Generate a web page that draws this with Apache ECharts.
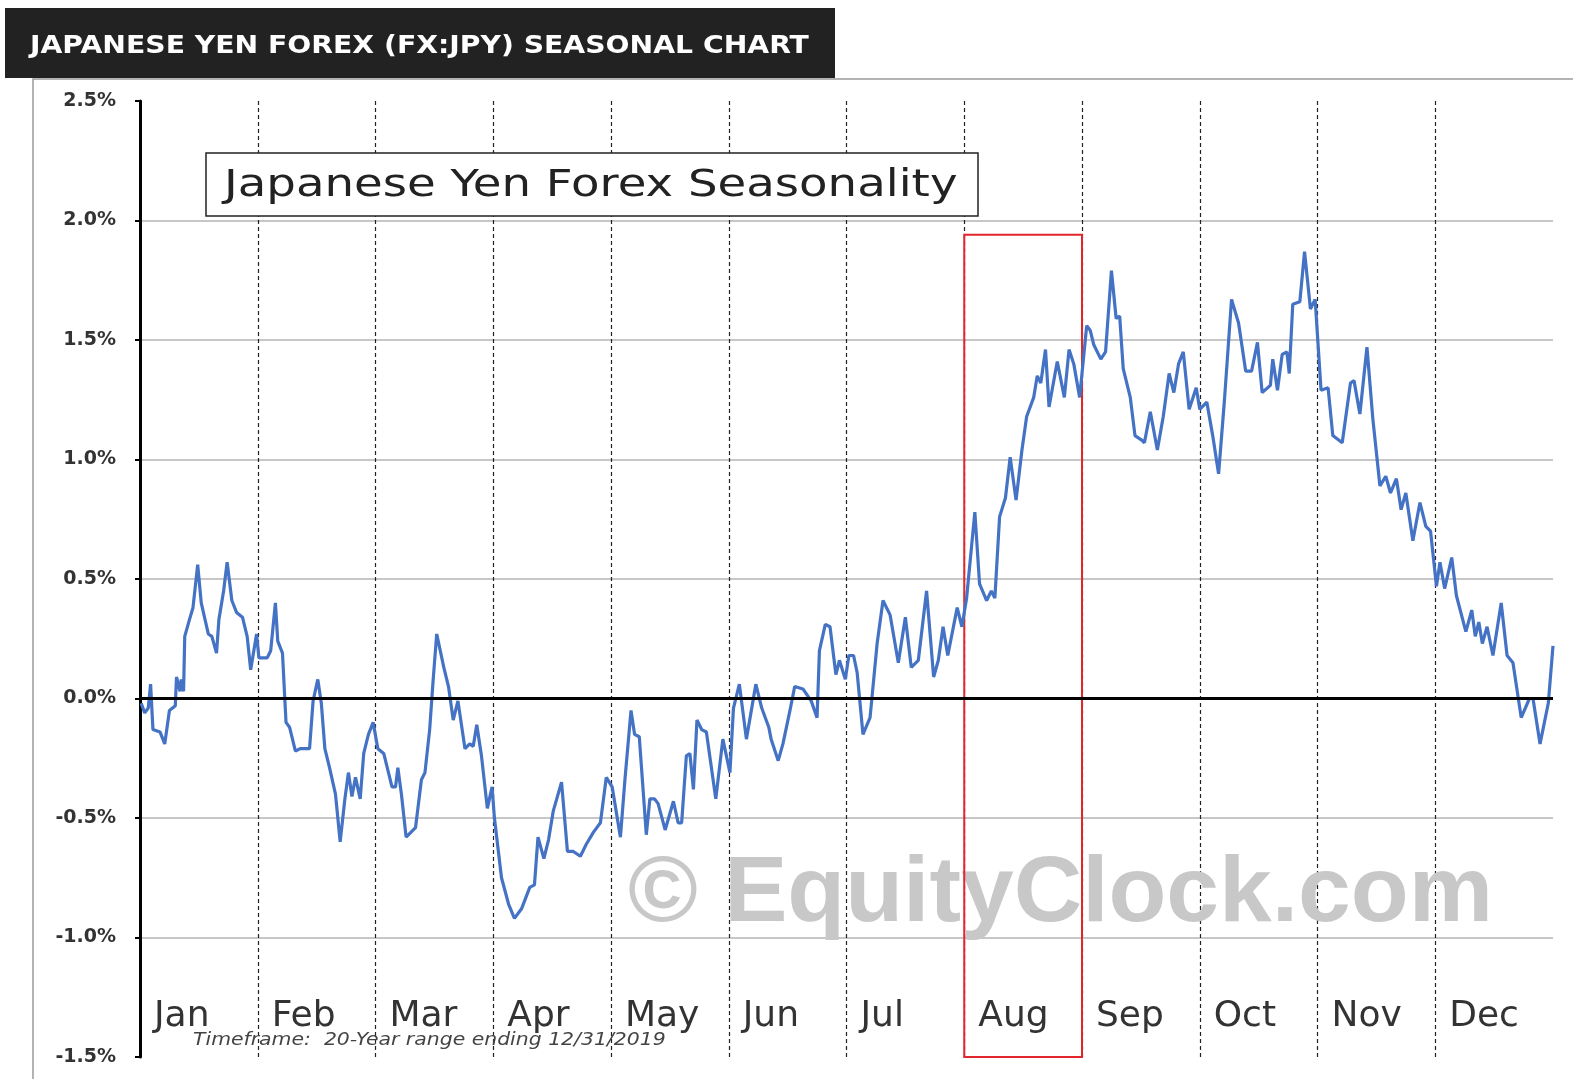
<!DOCTYPE html>
<html lang="en">
  <head>
    <meta charset="UTF-8" />
    <title>Japanese Yen Forex Seasonal Chart</title>
    <script src="https://cdn.jsdelivr.net/npm/echarts@6/dist/echarts.min.js"></script>
    <style>
      html, body { margin: 0; padding: 0; background: #fff; }
    </style>
  </head>
  <body>
    <div id="main" style="width: 1573px; height: 1079px"></div>
  </body>
</html>
<script>
  // month names shown along the bottom
  const months = ['Jan', 'Feb', 'Mar', 'Apr', 'May', 'Jun', 'Jul', 'Aug', 'Sep', 'Oct', 'Nov', 'Dec']

  // position in the year (months from Jan 1) and average seasonal return in %
  const pos = [
    0.01, 0.04, 0.07, 0.09, 0.11, 0.17, 0.21, 0.25, 0.30, 0.31, 0.34, 0.35, 0.37, 0.38, 0.42, 0.45, 0.49, 0.52, 0.58, 0.61,
    0.65, 0.67, 0.71, 0.74, 0.78, 0.82, 0.87, 0.91, 0.94, 0.99,
    1.01, 1.08, 1.11, 1.15, 1.17, 1.21, 1.24, 1.27, 1.32, 1.36, 1.44, 1.47, 1.51, 1.54, 1.57, 1.61, 1.66, 1.70, 1.74, 1.77,
    1.80, 1.83, 1.87, 1.90, 1.94, 1.98,
    2.02, 2.07, 2.14, 2.17, 2.19, 2.22, 2.26, 2.34, 2.39, 2.42, 2.46, 2.49, 2.52, 2.58, 2.62, 2.66, 2.70, 2.76, 2.80, 2.83,
    2.86, 2.90, 2.95, 2.99,
    3.01, 3.07, 3.13, 3.18, 3.24, 3.31, 3.35, 3.38, 3.43, 3.47, 3.51, 3.58, 3.63, 3.68, 3.74, 3.79, 3.85, 3.91, 3.96,
    4.01, 4.08, 4.12, 4.17, 4.20, 4.24, 4.30, 4.33, 4.37, 4.40, 4.46, 4.53, 4.57, 4.60, 4.64, 4.67, 4.70, 4.73, 4.77, 4.81,
    4.89, 4.95,
    5.01, 5.04, 5.09, 5.15, 5.23, 5.28, 5.34, 5.36, 5.42, 5.46, 5.52, 5.56, 5.63, 5.70, 5.75, 5.77, 5.82, 5.86, 5.91, 5.94,
    5.99,
    6.02, 6.06, 6.09, 6.14, 6.20, 6.26, 6.31, 6.37, 6.44, 6.50, 6.55, 6.61, 6.68, 6.74, 6.78, 6.82, 6.86, 6.94, 6.98,
    7.02, 7.09, 7.13, 7.19, 7.23, 7.26, 7.30, 7.35, 7.39, 7.44, 7.49, 7.53, 7.59, 7.62, 7.65, 7.69, 7.72, 7.79, 7.85, 7.89,
    7.93, 7.98,
    8.04, 8.07, 8.10, 8.16, 8.20, 8.25, 8.29, 8.32, 8.35, 8.41, 8.45, 8.51, 8.53, 8.58, 8.64, 8.69, 8.74, 8.78, 8.82, 8.86,
    8.91, 8.97,
    9.00, 9.06, 9.11, 9.16, 9.21, 9.27, 9.33, 9.39, 9.44, 9.49, 9.53, 9.60, 9.62, 9.66, 9.70, 9.74, 9.76, 9.79, 9.85, 9.89,
    9.94, 9.98,
    10.03, 10.09, 10.13, 10.21, 10.28, 10.31, 10.36, 10.42, 10.47, 10.53, 10.58, 10.62, 10.67, 10.71, 10.75, 10.81, 10.87,
    10.92, 10.96,
    11.01, 11.04, 11.08, 11.14, 11.18, 11.26, 11.31, 11.34, 11.37, 11.40, 11.44, 11.49, 11.56, 11.61, 11.66, 11.73, 11.80,
    11.83, 11.89, 11.96, 12.00
  ]
  const pct = [
    -0.02, -0.06, -0.04, 0.06, -0.13, -0.14, -0.19, -0.05, -0.03, 0.09, 0.03, 0.08, 0.03, 0.26, 0.33, 0.38, 0.56, 0.40, 0.27, 0.26,
    0.19, 0.33, 0.45, 0.57, 0.41, 0.36, 0.34, 0.26, 0.12, 0.27,
    0.17, 0.17, 0.20, 0.40, 0.24, 0.19, -0.10, -0.12, -0.22, -0.21, -0.21, -0.01, 0.08, -0.02, -0.21, -0.29, -0.40, -0.60, -0.42, -0.31,
    -0.41, -0.33, -0.42, -0.23, -0.15, -0.10,
    -0.21, -0.23, -0.37, -0.37, -0.29, -0.40, -0.58, -0.54, -0.34, -0.31, -0.13, 0.08, 0.27, 0.13, 0.05, -0.09, -0.01, -0.21, -0.19, -0.20,
    -0.11, -0.24, -0.46, -0.37,
    -0.50, -0.75, -0.86, -0.92, -0.88, -0.79, -0.78, -0.58, -0.67, -0.59, -0.47, -0.35, -0.64, -0.64, -0.66, -0.61, -0.56, -0.52, -0.33,
    -0.37, -0.58, -0.33, -0.05, -0.15, -0.16, -0.57, -0.42, -0.42, -0.44, -0.55, -0.43, -0.52, -0.52, -0.24, -0.23, -0.38, -0.09, -0.13, -0.14,
    -0.42, -0.17,
    -0.31, -0.04, 0.06, -0.17, 0.06, -0.04, -0.12, -0.17, -0.26, -0.19, -0.05, 0.05, 0.04, -0.01, -0.08, 0.20, 0.31, 0.30, 0.10, 0.16,
    0.08,
    0.18, 0.18, 0.11, -0.15, -0.08, 0.23, 0.41, 0.35, 0.15, 0.34, 0.13, 0.16, 0.45, 0.09, 0.16, 0.30, 0.18, 0.38, 0.30,
    0.42, 0.78, 0.48, 0.41, 0.45, 0.42, 0.76, 0.84, 1.01, 0.83, 1.04, 1.18, 1.26, 1.35, 1.32, 1.46, 1.22, 1.41, 1.26, 1.46,
    1.40, 1.26,
    1.56, 1.54, 1.48, 1.42, 1.45, 1.79, 1.59, 1.60, 1.38, 1.26, 1.10, 1.08, 1.07, 1.20, 1.04, 1.18, 1.36, 1.28, 1.40, 1.45,
    1.21, 1.30,
    1.21, 1.24, 1.10, 0.94, 1.25, 1.67, 1.57, 1.37, 1.37, 1.49, 1.28, 1.31, 1.42, 1.29, 1.44, 1.45, 1.36, 1.65, 1.66, 1.87,
    1.63, 1.67,
    1.29, 1.30, 1.10, 1.07, 1.32, 1.33, 1.19, 1.47, 1.17, 0.89, 0.93, 0.86, 0.92, 0.79, 0.86, 0.66, 0.82,
    0.72, 0.70,
    0.47, 0.57, 0.46, 0.59, 0.43, 0.28, 0.37, 0.26, 0.32, 0.23, 0.30, 0.18, 0.40, 0.18, 0.15, -0.08, 0.00,
    0.00, -0.19, -0.02, 0.22
  ]

  // highlighted month: [from, to, top of box in %]
  const highlight = [7, 8, 1.94]

  const lineData = pos.map((p, i) => [p, pct[i]])

  const chartInstance = echarts.init(document.getElementById('main'))

  const option = {
    backgroundColor: '#fff',
    animation: false,
    grid: { left: 140, right: 20, top: 101, bottom: 22 },
    xAxis: {
      type: 'value',
      min: 0,
      max: 12,
      interval: 1,
      axisLine: { show: false },
      axisTick: { show: false },
      axisLabel: {
        inside: true,
        margin: 40,
        align: 'left',
        verticalAlign: 'middle',
        padding: [0, 0, 0, 14],
        fontFamily: 'DejaVu Sans',
        fontSize: 36,
        color: '#333',
        showMaxLabel: false,
        formatter: (v) => months[v] || ''
      },
      splitLine: {
        show: true,
        showMinLine: false,
        showMaxLine: false,
        lineStyle: { color: '#222', width: 1.2, type: [4, 3] }
      }
    },
    yAxis: {
      type: 'value',
      min: -1.5,
      max: 2.5,
      interval: 0.5,
      axisLine: { show: true, lineStyle: { color: '#000', width: 3 } },
      axisTick: { show: true, length: 5, lineStyle: { color: '#000', width: 2 } },
      axisLabel: {
        margin: 24,
        fontFamily: 'DejaVu Sans',
        fontWeight: 'bold',
        fontSize: 19,
        color: '#333',
        formatter: (v) => v.toFixed(1) + '%'
      },
      splitLine: {
        show: true,
        showMinLine: false,
        showMaxLine: false,
        lineStyle: { color: '#b4b4b4', width: 1.5 }
      }
    },
    graphic: [
      {
        type: 'polyline',
        z: 0,
        shape: { points: [[33, 1079], [33, 79], [1573, 79]] },
        style: { stroke: '#9a9a9a', lineWidth: 1.5, fill: null }
      },
      {
        type: 'rect',
        z: 50,
        shape: { x: 5, y: 8, width: 830, height: 70 },
        style: { fill: '#222' }
      },
      {
        type: 'text',
        z: 51,
        x: 30,
        y: 46,
        scaleX: 1.13,
        style: {
          text: 'JAPANESE YEN FOREX (FX:JPY) SEASONAL CHART',
          x: 0,
          y: 0,
          verticalAlign: 'middle',
          fill: '#fff',
          font: 'bold 25px "DejaVu Sans"'
        }
      },
      {
        type: 'text',
        z: 1,
        x: 628,
        y: 896,
        scaleX: 1.03,
        style: {
          text: '\u00a9 EquityClock.com',
          x: 0,
          y: 0,
          verticalAlign: 'middle',
          fill: '#c8c8c8',
          font: 'bold 92px "Liberation Sans"'
        }
      },
      {
        type: 'rect',
        z: 40,
        shape: { x: 206, y: 153, width: 772, height: 63 },
        style: { fill: '#fff', stroke: '#222', lineWidth: 1.5 }
      },
      {
        type: 'text',
        z: 41,
        x: 224,
        y: 186,
        scaleX: 1.26,
        style: {
          text: 'Japanese Yen Forex Seasonality',
          x: 0,
          y: 0,
          verticalAlign: 'middle',
          fill: '#222',
          font: '37px "DejaVu Sans"'
        }
      },
      {
        type: 'text',
        z: 41,
        x: 193,
        y: 1041,
        scaleX: 1.2,
        style: {
          text: 'Timeframe:  20-Year range ending 12/31/2019',
          x: 0,
          y: 0,
          verticalAlign: 'middle',
          fill: '#444',
          font: 'italic 17px "DejaVu Sans"'
        }
      }
    ],
    series: [
      {
        type: 'line',
        data: lineData,
        showSymbol: false,
        smooth: false,
        z: 3,
        lineStyle: { color: '#4472c4', width: 3.2 },
        markLine: {
          silent: true,
          symbol: 'none',
          label: { show: false },
          lineStyle: { color: '#000', width: 3, type: 'solid' },
          data: [{ yAxis: 0 }]
        },
        markArea: {
          silent: true,
          itemStyle: { color: 'rgba(0,0,0,0)', borderColor: '#e3262b', borderWidth: 2 },
          data: [[{ xAxis: highlight[0], yAxis: highlight[2] }, { xAxis: highlight[1], yAxis: -1.5 }]]
        }
      }
    ]
  }

  chartInstance.setOption(option)

  window.addEventListener('resize', () => {
    chartInstance.resize()
  })
</script>
